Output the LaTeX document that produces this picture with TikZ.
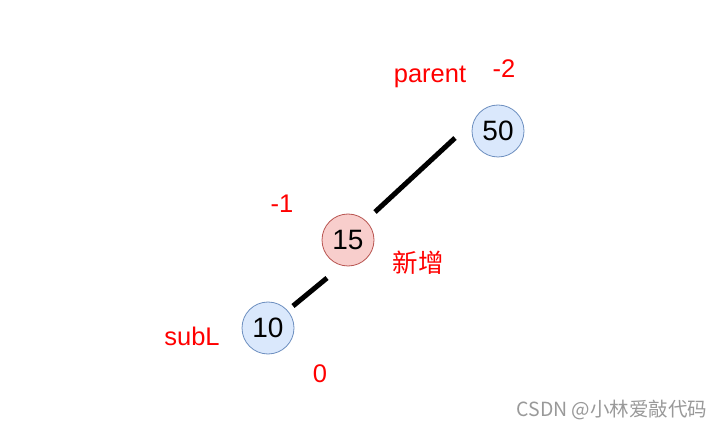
\documentclass[tikz,border=0pt]{standalone}
\usepackage{fontspec}
\setmainfont{Liberation Sans}
\newfontfamily\cjk{Noto Sans CJK SC}
\definecolor{bluefill}{HTML}{DAE8FC}
\definecolor{bluedraw}{HTML}{6C8EBF}
\definecolor{redfill}{HTML}{F8CECC}
\definecolor{reddraw}{HTML}{B85450}
\definecolor{lbl}{HTML}{FF0000}
\definecolor{wm}{HTML}{999999}
\begin{document}
\begin{tikzpicture}[x=1pt,y=-1pt,
  bnode/.style={circle,draw=bluedraw,fill=bluefill,line width=0.8pt,minimum size=52pt,inner sep=0pt,font=\fontsize{28}{32}\selectfont},
  rnode/.style={circle,draw=reddraw,fill=redfill,line width=0.8pt,minimum size=52pt,inner sep=0pt,font=\fontsize{28}{32}\selectfont},
  lab/.style={text=lbl,inner sep=0pt,font=\fontsize{25.5}{30}\selectfont},
  edge/.style={line width=5pt}]
\useasboundingbox (0,0) rectangle (723,430);
\node[bnode] (n50) at (498,131) {50};
\node[rnode] (n15) at (348,240) {15};
\node[bnode] (n10) at (268,328) {10};
\coordinate (e1a) at ([shift={(-43,7)}]n50.center);
\coordinate (e1b) at ([shift={(27,-28)}]n15.center);
\coordinate (e2a) at ([shift={(-21,38)}]n15.center);
\coordinate (e2b) at ([shift={(25,-22)}]n10.center);
\draw[edge] (e1a) -- (e1b);
\draw[edge] (e2a) -- (e2b);
\node[lab] (lparent) at (430,77) {parent};
\node[lab] (lm2) at (504,69) {-2};
\node[lab] (lm1) at (282,204) {-1};
\node[lab,font=\cjk\fontsize{25.5}{30}\selectfont] (lnew) at (418,263) {新增};
\node[lab] (lsub) at (192,336) {subL};
\node[lab] (l0) at (320,374) {0};
\node[text=wm,inner sep=0pt,font=\cjk\fontsize{19.5}{23}\selectfont] (wmk) at (612,410) {CSDN @小林爱敲代码};
\end{tikzpicture}
\end{document}
